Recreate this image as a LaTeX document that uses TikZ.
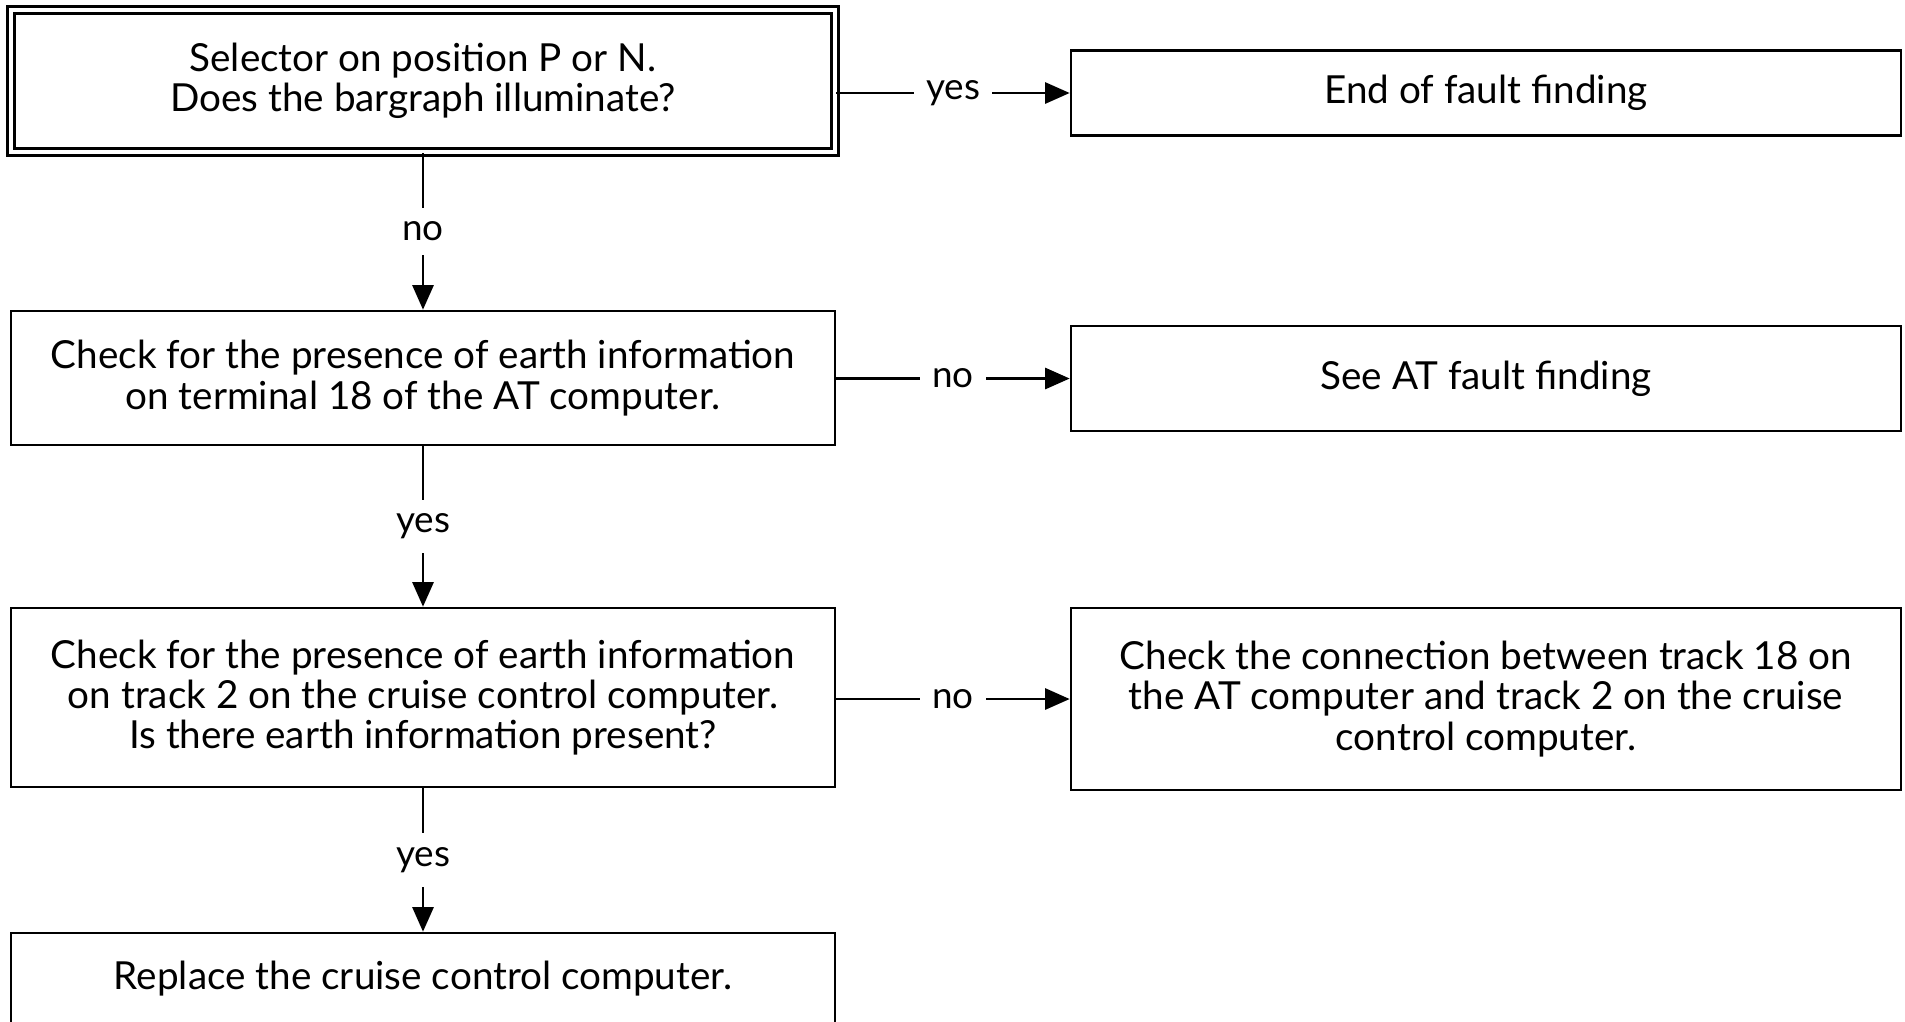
\documentclass[tikz,border=0pt]{standalone}
\usepackage{fontspec}
\setmainfont{Lato}
\usetikzlibrary{arrows.meta,positioning}

\begin{document}
\begin{tikzpicture}[
    box/.style={draw, line width=0.75pt, minimum width=8.24cm, align=center,
                font=\fontsize{11}{11.5}\selectfont, inner sep=0pt},
    arr/.style={-{Triangle[length=7pt,width=6pt]}, line width=0.75pt},
    lbl/.style={fill=white, font=\fontsize{10.5}{11.5}\selectfont,
                inner xsep=3.5pt, inner ysep=4pt},
  ]
  \useasboundingbox (0,0) rectangle (19.05,-10.21);

  % Checks on the left
  \node[box, double, double distance=1.1pt, minimum height=1.42cm]
    (sel) at (4.23,-0.81) {Selector on position P or N.\\Does the bargraph illuminate?};
  \node[box, minimum height=1.34cm]
    (term) at (4.23,-3.78) {Check for the presence of earth information\\on terminal 18 of the AT computer.};
  \node[box, minimum height=1.79cm]
    (track) at (4.23,-6.975) {Check for the presence of earth information\\on track 2 on the cruise control computer.\\Is there earth information present?};
  \node[box, minimum height=0.92cm]
    (repl) at (4.23,-9.79) {Replace the cruise control computer.};

  % Outcomes on the right
  \node[box, minimum width=8.3cm, minimum height=0.85cm]
    (done) at (14.86,-0.93) {End of fault finding};
  \node[box, minimum width=8.3cm, minimum height=1.05cm]
    (atff) at (14.86,-3.785) {See AT fault finding};
  \node[box, minimum width=8.3cm, minimum height=1.82cm]
    (conn) at (14.86,-6.99) {Check the connection between track 18 on\\the AT computer and track 2 on the cruise\\control computer.};

  % Arrows
  \draw[arr] (done.west -| sel.east) -- node[lbl] {yes} (done.west);
  \draw[arr] (sel) -- node[lbl] {no} (term);
  \draw[arr] (atff.west -| term.east) -- node[lbl] {no} (atff.west);
  \draw[arr] (term) -- node[lbl] {yes} (track);
  \draw[arr] (conn.west -| track.east) -- node[lbl] {no} (conn.west);
  \draw[arr] (track) -- node[lbl] {yes} (repl);
\end{tikzpicture}
\end{document}
